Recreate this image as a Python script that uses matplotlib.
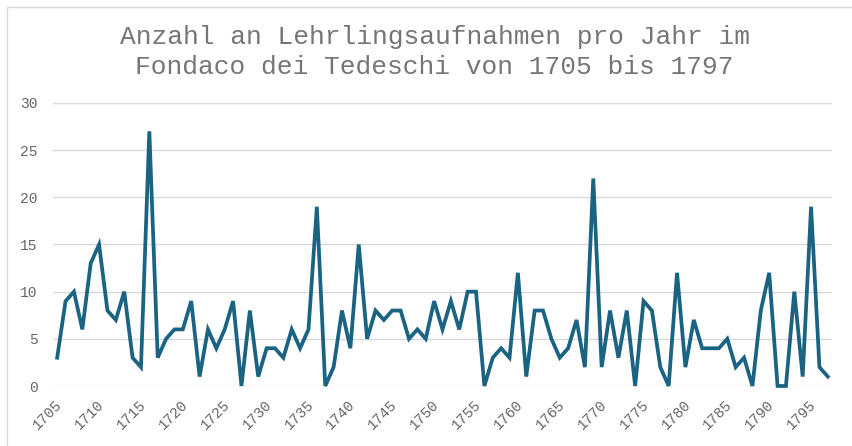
import matplotlib.pyplot as plt
from matplotlib.patches import Rectangle
from matplotlib.transforms import ScaledTranslation

# Lehrlingsaufnahmen pro Jahr, 1705-1797
years = list(range(1705, 1798))
counts = [3, 9, 10, 6, 13, 15, 8, 7, 10, 3,
          2, 27, 3, 5, 6, 6, 9, 1, 6, 4,
          6, 9, 0, 8, 1, 4, 4, 3, 6, 4,
          6, 19, 0, 2, 8, 4, 15, 5, 8, 7,
          8, 8, 5, 6, 5, 9, 6, 9, 6, 10,
          10, 0, 3, 4, 3, 12, 1, 8, 8, 5,
          3, 4, 7, 2, 22, 2, 8, 3, 8, 0,
          9, 8, 2, 0, 12, 2, 7, 4, 4, 4,
          5, 2, 3, 0, 8, 12, 0, 0, 10, 1,
          19, 2, 1]
yticks = [0, 5, 10, 15, 20, 25, 30]
xticks = list(range(1705, 1798, 5))

title = "Anzahl an Lehrlingsaufnahmen pro Jahr im\nFondaco dei Tedeschi von 1705 bis 1797"

plt.rcParams['font.family'] = ['Liberation Mono', 'DejaVu Sans Mono']

fig = plt.figure(figsize=(8.52, 4.46), dpi=100)
ax = fig.add_axes([53 / 852, 1 - 386 / 446, (832 - 53) / 852, (386 - 103) / 446])

ax.plot(years, counts, color='#1b6383', lw=2.7, solid_joinstyle='miter',
        clip_on=False, zorder=3)

ax.set_xlim(1704.5, 1797.5)
ax.set_ylim(0, 30)
ax.set_yticks(yticks)
ax.set_xticks(xticks)
ax.set_xticklabels([str(x) for x in xticks], rotation=45, ha='right',
                   va='top', rotation_mode='anchor')
ax.tick_params(axis='both', length=0, labelsize=10.5, colors='#666666')
ax.tick_params(axis='y', pad=11)
ax.tick_params(axis='x', pad=8)
# Beschriftungen etwas nach links schieben
shift = ScaledTranslation(-2 / 100, 0, fig.dpi_scale_trans)
for lbl in ax.get_xticklabels():
    lbl.set_transform(lbl.get_transform() + shift)
ax.grid(axis='y', color='#d9d9d9', lw=1)
ax.set_axisbelow(True)
for s in ax.spines.values():
    s.set_visible(False)

fig.text(0.51, 1 - 52 / 446, title, ha='center', va='center',
         fontsize=18.9, color='#757575', linespacing=1.3)

# heller Rahmen um die Grafik
fig.patches.append(Rectangle((6.5 / 852, -0.1), 1.2, 1 - 6.5 / 446 + 0.1,
                             transform=fig.transFigure, fill=False,
                             edgecolor='#d9d9d9', lw=1))

fig.savefig('out.png', dpi=100)
